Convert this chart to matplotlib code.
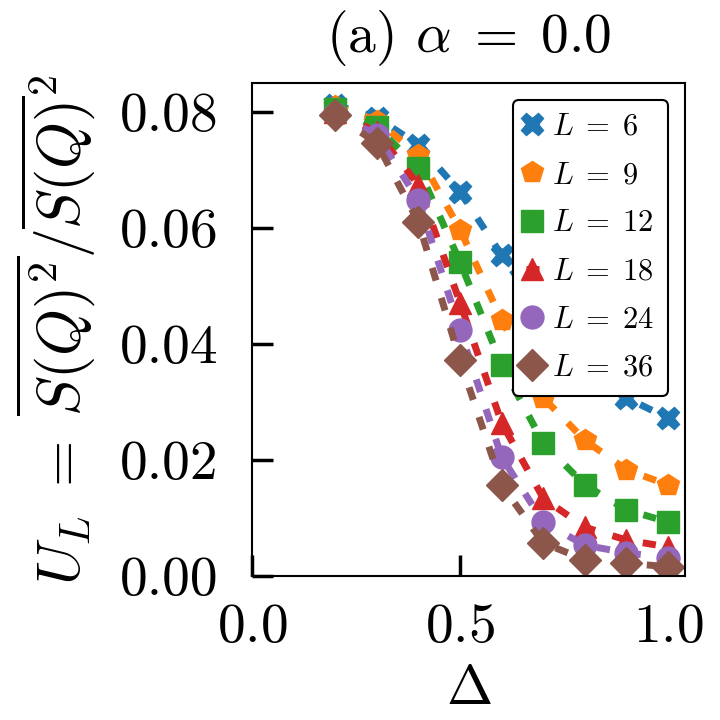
import numpy as np
import matplotlib
matplotlib.use("Agg")
import matplotlib.pyplot as plt

plt.rcParams["font.family"] = "serif"
plt.rcParams["font.serif"] = ["cmr10"]
plt.rcParams["mathtext.fontset"] = "cm"
plt.rcParams["axes.formatter.use_mathtext"] = True

delta = np.array([0.2, 0.3, 0.4, 0.5, 0.6, 0.7, 0.8, 0.9, 1.0])

sizes = [6, 9, 12, 18, 24, 36]
markers = ["X", "p", "s", "^", "o", "D"]

# Binder-like ratio for each system size
u_L = {
    6:  [0.0812, 0.0790, 0.0743, 0.0662, 0.0553, 0.0450, 0.0370, 0.0307, 0.0272],
    9:  [0.0810, 0.0785, 0.0726, 0.0597, 0.0441, 0.0307, 0.0234, 0.0183, 0.0157],
    12: [0.0805, 0.0774, 0.0703, 0.0541, 0.0364, 0.0229, 0.0157, 0.0114, 0.0093],
    18: [0.0800, 0.0765, 0.0674, 0.0471, 0.0264, 0.0134, 0.0084, 0.0062, 0.0050],
    24: [0.0797, 0.0760, 0.0648, 0.0424, 0.0205, 0.0093, 0.0053, 0.0040, 0.0031],
    36: [0.0795, 0.0746, 0.0610, 0.0372, 0.0157, 0.0057, 0.0028, 0.0022, 0.0016],
}

fig = plt.figure(figsize=(7.2, 7.2), dpi=100)
ax = fig.add_axes([0.35, 0.2, 0.601, 0.685])

for L, m in zip(sizes, markers):
    ax.plot(delta, u_L[L], marker=m, ms=16.5, lw=5, ls=(0, (1.9, 2.6)),
            label=rf"$L\;=\;{L}$")

ax.set_xlim(0, 1.04)
ax.set_ylim(0, 0.085)
ax.set_xticks([0.0, 0.5, 1.0])
ax.set_yticks([0.0, 0.02, 0.04, 0.06, 0.08])
ax.set_yticklabels(["0.00", "0.02", "0.04", "0.06", "0.08"])
ax.tick_params(direction="in", length=15, width=2.5, labelsize=40)
ax.tick_params(axis="y", pad=24)
ax.tick_params(axis="x", pad=20)
for s in ax.spines.values():
    s.set_linewidth(1.5)

ax.set_title(r"(a) $\alpha\;=\;0.0$", fontsize=40, pad=22)
ax.set_xlabel(r"$\Delta$", fontsize=40, labelpad=9)
ax.set_ylabel(r"$U_L\;=\;\overline{S(Q)^2}/\overline{S(Q)}^2$", fontsize=43, labelpad=16)

leg = ax.legend(loc="upper right", fontsize=22, handlelength=0.4, handletextpad=0.45,
                labelspacing=0.68, borderpad=0.45, borderaxespad=0.55,
                framealpha=1, fancybox=True, bbox_to_anchor=(1, 1))
leg.get_frame().set_edgecolor("black")
leg.get_frame().set_linewidth(1.5)

fig.savefig("out.png", dpi=100)
